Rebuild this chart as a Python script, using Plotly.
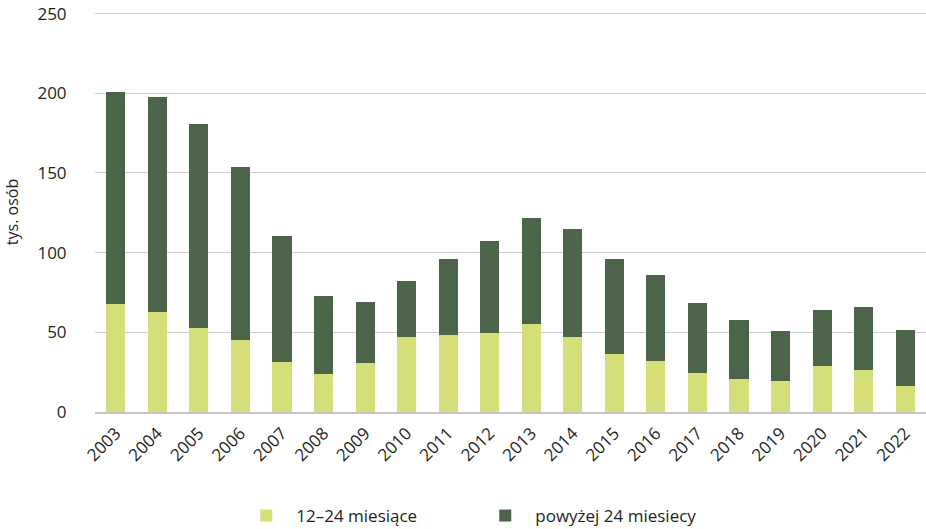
import plotly.graph_objects as go

years = [str(y) for y in range(2003, 2023)]
short_term = [67.8, 62.7, 52.7, 45.0, 31.2, 23.7, 30.6, 46.9, 48.1, 49.4,
              55.0, 46.9, 36.2, 31.8, 24.3, 20.5, 19.3, 28.7, 26.2, 16.1]
total = [200.8, 197.6, 180.7, 153.7, 110.2, 72.6, 68.8, 82.0, 95.8, 107.1,
         121.5, 114.6, 95.8, 85.8, 68.2, 57.5, 50.6, 63.8, 65.7, 51.3]
long_term = [round(t - s, 1) for t, s in zip(total, short_term)]

name_short = "12–24 miesiące"
name_long = "powyżej 24 miesiecy"
y_title = "tys. osób"
y_ticks = [0, 50, 100, 150, 200, 250]

font_family = "Open Sans, Noto Sans, sans-serif"
text_color = "#231f20"

fig = go.Figure()
fig.add_trace(go.Bar(x=years, y=short_term, name=name_short,
                     marker=dict(color="#D4DF7A", line=dict(width=0))))
fig.add_trace(go.Bar(x=years, y=long_term, name=name_long,
                     marker=dict(color="#4C6449", line=dict(width=0))))

fig.update_layout(
    width=926, height=529,
    barmode="stack",
    bargap=0.54,
    plot_bgcolor="white",
    paper_bgcolor="white",
    margin=dict(l=95, r=0, t=12, b=117, autoexpand=False),
    font=dict(family=font_family, size=17, color=text_color),
    showlegend=True,
    legend=dict(orientation="h", x=0.17, xanchor="left", y=-0.215, yanchor="top",
                entrywidth=174, entrywidthmode="pixels", itemwidth=50,
                font=dict(size=17, color=text_color), traceorder="normal"),
    xaxis=dict(type="category", tickangle=-45, showgrid=False, automargin=False,
               showline=True, linecolor="#c6c6c6", linewidth=1.5,
               ticks="outside", ticklen=3, tickcolor="rgba(0,0,0,0)",
               tickfont=dict(size=17)),
    yaxis=dict(range=[0, 251], tickvals=y_ticks, showgrid=True, automargin=False,
               gridcolor="#cdcdcd", gridwidth=1.3, zeroline=False,
               ticks="outside", ticklen=24, tickcolor="rgba(0,0,0,0)",
               tickfont=dict(size=17),
               title=dict(text=y_title, font=dict(size=16), standoff=14)),
)

fig.write_html("out.html", config={"displayModeBar": False},
               post_script="document.body.style.margin='0';document.body.style.padding='0';")
